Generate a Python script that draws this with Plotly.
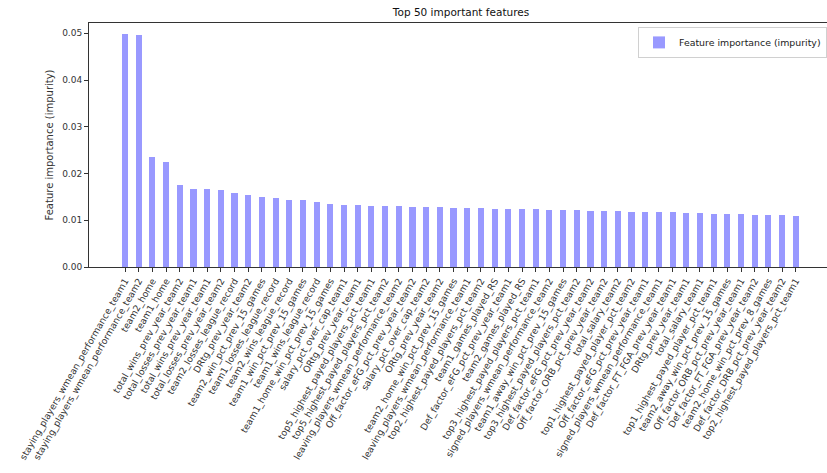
import plotly.graph_objects as go

features = [
    "staying_players_wmean_performance_team1",
    "staying_players_wmean_performance_team2",
    "team2_home",
    "team1_home",
    "total_wins_prev_year_team2",
    "total_losses_prev_year_team1",
    "total_wins_prev_year_team1",
    "total_losses_prev_year_team2",
    "team2_losses_league_record",
    "DRtg_prev_year_team2",
    "team2_win_pct_prev_15_games",
    "team1_losses_league_record",
    "team2_wins_league_record",
    "team1_win_pct_prev_15_games",
    "team1_wins_league_record",
    "team1_home_win_pct_prev_15_games",
    "salary_pct_over_cap_team1",
    "ORtg_prev_year_team1",
    "top5_highest_payed_players_pct_team1",
    "top5_highest_payed_players_pct_team2",
    "leaving_players_wmean_performance_team2",
    "Off_factor_eFG_pct_prev_year_team2",
    "salary_pct_over_cap_team2",
    "ORtg_prev_year_team2",
    "team2_home_win_pct_prev_15_games",
    "leaving_players_wmean_performance_team1",
    "top2_highest_payed_players_pct_team2",
    "team1_games_played_RS",
    "Def_factor_eFG_pct_prev_year_team1",
    "team2_games_played_RS",
    "top3_highest_payed_players_pct_team1",
    "signed_players_wmean_performance_team2",
    "team1_away_win_pct_prev_15_games",
    "top3_highest_payed_players_pct_team2",
    "Def_factor_eFG_pct_prev_year_team2",
    "Off_factor_ORB_pct_prev_year_team2",
    "total_salary_team2",
    "top1_highest_payed_player_pct_team2",
    "Off_factor_eFG_pct_prev_year_team1",
    "signed_players_wmean_performance_team1",
    "Def_factor_FT_FGA_prev_year_team1",
    "DRtg_prev_year_team1",
    "total_salary_team1",
    "top1_highest_payed_player_pct_team1",
    "team2_away_win_pct_prev_15_games",
    "Off_factor_ORB_pct_prev_year_team1",
    "Def_factor_FT_FGA_prev_year_team2",
    "team2_home_win_pct_prev_8_games",
    "Def_factor_DRB_pct_prev_year_team2",
    "top2_highest_payed_players_pct_team1",
]

importances = [
    0.0498, 0.0496, 0.0236, 0.0225, 0.0175, 0.0166, 0.0166, 0.0164, 0.0159, 0.0155,
    0.0149, 0.0147, 0.0144, 0.01425, 0.0138, 0.0134, 0.0132, 0.0132, 0.0130, 0.0130,
    0.0130, 0.01276, 0.01276, 0.01276, 0.01254, 0.01254, 0.01254, 0.01233, 0.01233, 0.01233,
    0.01233, 0.01212, 0.01212, 0.01212, 0.0119, 0.0119, 0.0119, 0.01169, 0.01169, 0.01169,
    0.01169, 0.01148, 0.01148, 0.01126, 0.01126, 0.01126, 0.01105, 0.01105, 0.01105, 0.01083,
]

y_ticks = [0.00, 0.01, 0.02, 0.03, 0.04, 0.05]

positions = list(range(len(features)))

fig = go.Figure()
fig.add_trace(go.Bar(
    x=positions,
    y=importances,
    width=0.45,
    marker=dict(color="rgba(0,0,255,0.4)", line=dict(width=0)),
    name="Feature importance (impurity)",
    showlegend=True,
))

font_family = "DejaVu Sans"
fig.update_layout(
    width=827, height=473,
    margin=dict(l=89, r=0, t=23, b=206, autoexpand=False),
    paper_bgcolor="white",
    plot_bgcolor="white",
    font=dict(family=font_family, size=9, color="#333333"),
    title=dict(text="Top 50 important features", x=0.5575, xanchor="center",
               y=0.975, yanchor="middle",
               font=dict(family=font_family, size=10.5, color="#111111")),
    legend=dict(x=1.0, xanchor="right", y=0.984, yanchor="top",
                bgcolor="white", bordercolor="#d0d0d0", borderwidth=1,
                itemwidth=30,
                font=dict(family=font_family, size=9.4, color="#222222")),
    bargap=0,
)
fig.update_xaxes(
    range=[-2.63, 51.28],
    tickmode="array", tickvals=positions, ticktext=features,
    tickangle=-60, ticks="outside", ticklen=4, tickcolor="#333333",
    showline=True, linecolor="#333333", linewidth=1, mirror=True,
    showgrid=False, zeroline=False, automargin=False,
    tickfont=dict(family=font_family, size=9.2, color="#333333"),
)
fig.update_yaxes(
    range=[0, 0.0522],
    tickmode="array", tickvals=y_ticks, ticktext=[f"{v:.2f}" for v in y_ticks],
    ticks="outside", ticklen=4, tickcolor="#333333",
    showline=True, linecolor="#333333", linewidth=1, mirror=False,
    showgrid=False, zeroline=False, automargin=False,
    title=dict(text="Feature importance (impurity)", standoff=6,
               font=dict(family=font_family, size=10, color="#333333")),
    tickfont=dict(family=font_family, size=9, color="#333333"),
)

fig.write_html("out.html", config={"displayModeBar": False},
               post_script="document.body.style.margin='0px';")
